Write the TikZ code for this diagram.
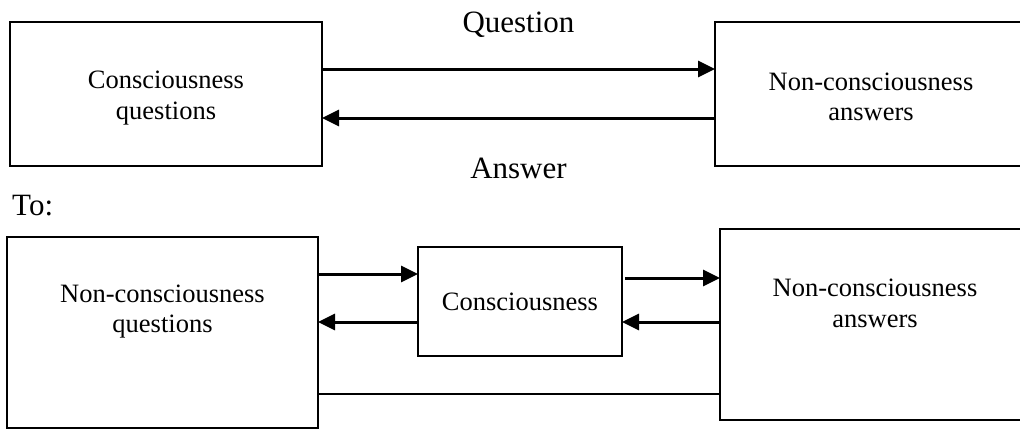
\documentclass[tikz,border=0pt]{standalone}
\usepackage{fontspec}
\setmainfont{Liberation Serif}
\usetikzlibrary{arrows.meta, positioning}

\begin{document}
\begin{tikzpicture}[x=1pt, y=-1pt, node distance=393pt,
		box/.style={draw, line width=2.3pt, rectangle, inner sep=0pt, outer sep=0pt, align=center,
			font=\fontsize{26.5}{30.5}\selectfont},
		boxtext/.style={box, draw=none},
		arr/.style={-{Triangle[length=17pt, width=16pt]}, line width=3pt},
		lbl/.style={inner sep=0pt, font=\fontsize{31}{36}\selectfont}]
		
		\useasboundingbox (0,0) rectangle (1020,429);
		
		% Nodes
		\node[box, minimum width=312pt, minimum height=144pt, anchor=north west,
			label={[boxtext, yshift=-4pt]center:Consciousness\\questions}] (A) at (10,22) {};
		\node[box, minimum width=312pt, minimum height=144pt, right=of A,
			label={[boxtext, yshift=-3pt]center:Non-consciousness\\answers}] (B) {};
		
		\node[lbl, anchor=base west] (to) at (12,215) {To:};
		
		\node[box, minimum width=311pt, minimum height=191pt, anchor=north west,
			label={[boxtext, yshift=21pt]center:Non-consciousness\\questions}] (C) at (7,237) {};
		\node[box, minimum width=204pt, minimum height=109pt, anchor=north west] (D) at (418,247)
			{Consciousness};
		\node[box, minimum width=310pt, minimum height=191pt, anchor=north west,
			label={[boxtext, yshift=21pt]center:Non-consciousness\\answers}] (E) at (720,229) {};
		
		% Coordinates
		\coordinate (c1) at ([yshift=27.5pt]D.west);
		\coordinate (c2) at ([yshift=-20.5pt]D.west);
		\coordinate (c3) at ([xshift=3pt, yshift=23.5pt]D.east);
		\coordinate (c4) at ([yshift=-20.5pt]D.east);
		\coordinate (c5) at ([yshift=-61.5pt]C.east);
		
		% Arrows
		\draw[arr] ([yshift=25pt]A.east) -- ([yshift=25pt]B.west)
			node[lbl, midway, above=30pt] (q) {Question};
		\draw[arr] ([yshift=-24pt]B.west) -- ([yshift=-24pt]A.east)
			node[lbl, midway, below=39pt] (a) {Answer};
		
		\draw[arr] (C.east |- c1) -- (c1);
		\draw[arr] (c2) -- (C.east |- c2);
		\draw[arr] (c3) -- (E.west |- c3);
		\draw[arr] (E.west |- c4) -- (c4);
		\draw[line width=1.8pt] (c5) -- (E.west |- c5);
		
\end{tikzpicture}
\end{document}
